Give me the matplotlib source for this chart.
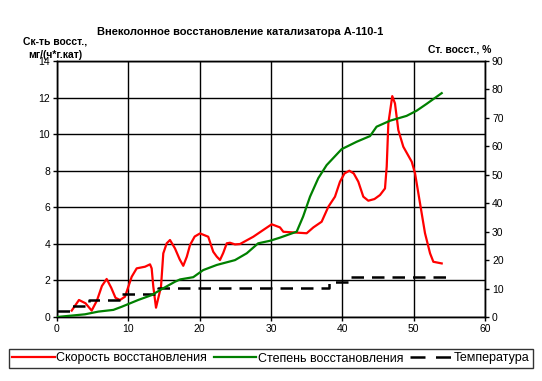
import matplotlib
matplotlib.use("Agg")
import matplotlib.pyplot as plt
from matplotlib.lines import Line2D

plt.rcParams['font.family'] = ['Liberation Sans', 'DejaVu Sans']

# Rate of reduction (left axis)
rate_x = [2.06, 3.08, 4.0, 4.86, 5.6, 6.3, 6.96, 7.6, 8.2, 8.83, 9.53, 10.47, 11.17, 12.34, 13.04,
          13.27, 13.5, 13.88, 14.58, 14.9, 15.38, 15.84, 16.54, 17.2, 17.7, 18.2, 18.65, 19.3, 20.05,
          21.2, 21.9, 22.4, 22.85, 23.3, 23.8, 24.25, 24.95, 25.65, 27.52, 28.92, 30.1, 31.26,
          31.73, 35.0, 35.94, 37.1, 38.04, 38.97, 39.67, 40.3, 40.98, 41.6, 42.24, 42.94, 43.64,
          44.5, 45.28, 45.98, 46.22, 46.45, 47.0, 47.38, 47.85, 48.55, 49.73, 50.19, 50.89,
          51.59, 52.3, 52.76, 53.93]
rate_y = [0.35, 0.93, 0.75, 0.35, 0.9, 1.7, 2.08, 1.6, 1.05, 0.93, 1.11, 2.2, 2.66, 2.75, 2.88,
          2.66, 1.66, 0.51, 1.66, 3.48, 4.03, 4.21, 3.75, 3.15, 2.8, 3.3, 3.94, 4.4, 4.57,
          4.39, 3.57, 3.3, 3.12, 3.5, 4.03, 4.06, 3.97, 3.99, 4.39, 4.76, 5.07, 4.9,
          4.66, 4.58, 4.9, 5.21, 6.03, 6.58, 7.4, 7.85, 8.0, 7.85, 7.4, 6.58, 6.36,
          6.45, 6.67, 7.03, 8.22, 10.59, 12.08, 11.68, 10.22, 9.31, 8.49, 7.86, 6.22,
          4.58, 3.48, 3.02, 2.93]

# Degree of reduction (right axis, %)
deg_x = [0.0, 3.93, 5.8, 7.9, 9.07, 11.4, 13.27, 14.68, 16.54, 17.24, 19.1, 20.5, 22.4, 24.95,
         26.6, 28.2, 29.86, 31.26, 33.6, 34.5, 35.47, 36.63, 37.8, 39.9, 42.0, 43.88, 44.8,
         46.68, 49.0, 50.4, 51.8, 53.93]
deg_y = [0.0, 0.95, 1.9, 2.5, 3.6, 6.0, 7.7, 9.8, 12.4, 13.2, 14.0, 16.5, 18.3, 20.0,
         22.4, 25.9, 26.8, 27.9, 30.0, 35.3, 42.3, 48.8, 53.4, 59.0, 61.6, 63.6, 66.9,
         69.0, 70.7, 72.5, 74.9, 78.7]

# Temperature (step line on left axis)
temp_x = [0.0, 2.0, 2.0, 4.5, 4.5, 9.0, 9.0, 14.2, 14.2, 38.2, 38.2, 41.0, 41.0, 54.9]
temp_y = [0.35, 0.35, 0.6, 0.6, 0.95, 0.95, 1.27, 1.27, 1.6, 1.6, 1.9, 1.9, 2.2, 2.2]

x_ticks = [0, 10, 20, 30, 40, 50, 60]
left_ticks = [0, 2, 4, 6, 8, 10, 12, 14]
right_ticks = [0, 10, 20, 30, 40, 50, 60, 70, 80, 90]

fig = plt.figure(figsize=(5.42, 3.81), dpi=100)
ax = fig.add_axes([57/542, 1-317/381, (485-57)/542, (317-61)/381])
ax2 = ax.twinx()

ax.set_xlim(0, 60)
ax.set_ylim(0, 14)
ax2.set_ylim(0, 90)
ax.set_xticks(x_ticks)
ax.set_yticks(left_ticks)
ax2.set_yticks(right_ticks)
ax.grid(True, color='black', linewidth=1)
ax.set_axisbelow(True)

fs = 7.5
ax.tick_params(labelsize=fs, length=3, width=1, direction='out', pad=2)
ax2.tick_params(labelsize=fs, length=3, width=1, direction='out', pad=2)
for a in (ax, ax2):
    for s in a.spines.values():
        s.set_linewidth(1)
        s.set_color('black')

dash = (5, 3.2)
l1, = ax.plot(rate_x, rate_y, color='#ff0000', lw=1.6, zorder=3)
l3, = ax.plot(temp_x, temp_y, color='black', lw=1.8, dashes=dash, zorder=3)
l2, = ax2.plot(deg_x, deg_y, color='#008000', lw=1.6, zorder=3)

fig.text(240/542, 1-32/381, 'Внеколонное восстановление катализатора А-110-1',
         ha='center', va='center', fontsize=8, fontweight='bold')
fig.text(55/542, 1-48/381, 'Ск-ть восст.,\nмг/(ч*г.кат)', ha='center', va='center',
         fontsize=7.5, fontweight='bold', linespacing=1.45)
fig.text(460/542, 1-49/381, 'Ст. восст., %', ha='center', va='center',
         fontsize=7.5, fontweight='bold')

handles = [Line2D([], [], color='#ff0000', lw=1.6),
           Line2D([], [], color='#008000', lw=1.6),
           Line2D([], [], color='black', lw=1.8, dashes=(6, 4.2))]
labels = ['Скорость восстановления', 'Степень восстановления', 'Температура']
leg = fig.legend(handles, labels, loc='center', bbox_to_anchor=(271/542, 1-358.5/381),
                 ncol=3, fontsize=9, frameon=True, fancybox=False, edgecolor='black',
                 handlelength=3.4, handletextpad=0.15, columnspacing=0.5, borderpad=0.25,
                 borderaxespad=0)
leg.get_frame().set_linewidth(1)

fig.savefig('out.png', dpi=100)
